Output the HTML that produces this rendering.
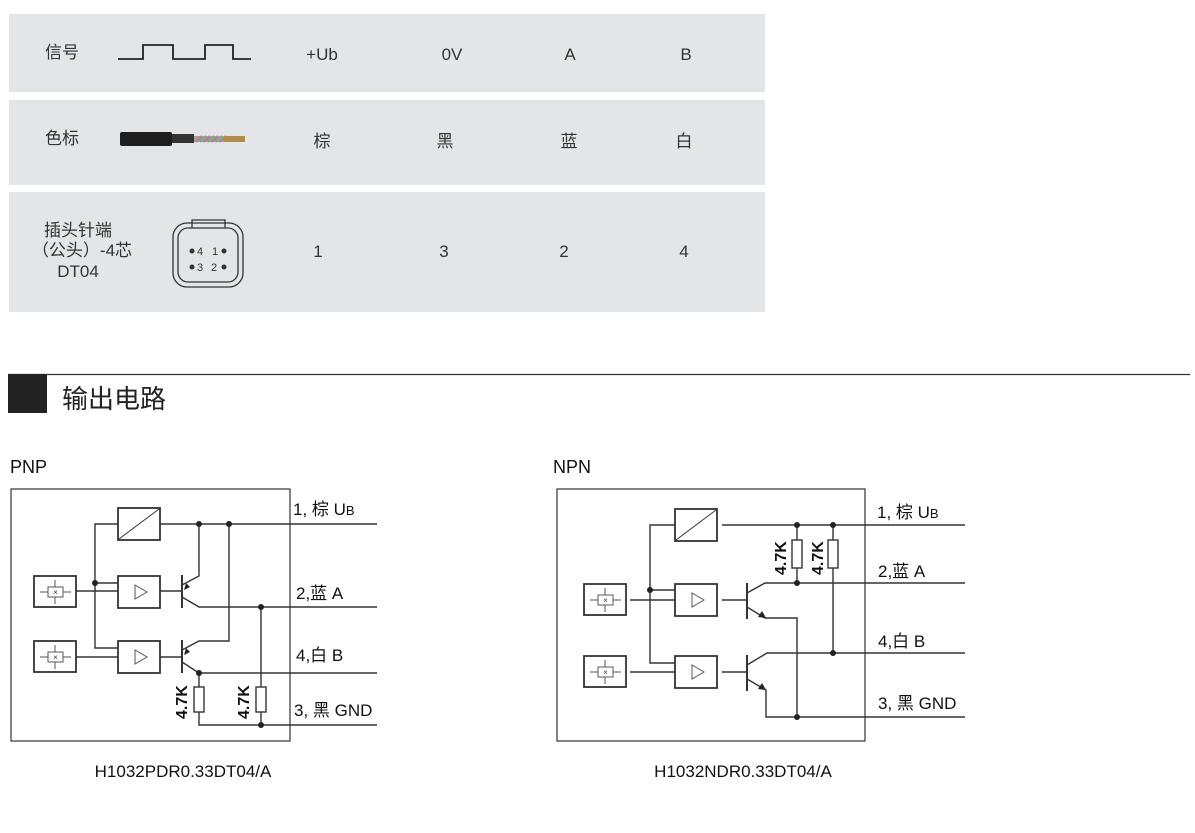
<!DOCTYPE html>
<html><head><meta charset="utf-8"><style>
body{margin:0;width:1195px;height:833px;background:#fff;overflow:hidden;font-family:"Liberation Sans","Noto Sans CJK SC",sans-serif;}
svg{position:absolute;left:0;top:0}
</style></head><body>
<svg width="1195" height="833" viewBox="0 0 1195 833" font-family="Liberation Sans, Noto Sans CJK SC, sans-serif">
<defs>
<g id="sens"><rect x="0" y="0" width="42" height="31" fill="#fff" stroke="#333" stroke-width="1.8"/>
<line x1="6" y1="16" x2="37" y2="16" stroke="#555"/><line x1="21" y1="4" x2="21" y2="28" stroke="#555"/>
<rect x="14" y="11" width="15" height="10" fill="#fff" stroke="#555"/><text x="21.5" y="19" font-size="8" text-anchor="middle" fill="#333">×</text></g>
<g id="amp"><rect x="0" y="0" width="42" height="32" fill="#fff" stroke="#333" stroke-width="1.8"/>
<path d="M17 9 L29 16 L17 23 Z" fill="none" stroke="#555"/></g>
<g id="conv"><rect x="0" y="0" width="42" height="32" fill="#fff" stroke="#333" stroke-width="1.8"/><line x1="1" y1="31" x2="41" y2="1" stroke="#333"/></g>
</defs>
<!-- table -->
<rect x="9" y="14" width="756" height="78" fill="#e3e5e6"/>
<rect x="9" y="100" width="756" height="85" fill="#e3e5e6"/>
<rect x="9" y="192" width="756" height="120" fill="#e3e5e6"/>
<g font-size="17" fill="#333" text-anchor="middle">
<text x="62" y="58">信号</text>
<text x="322" y="60">+Ub</text><text x="452" y="60">0V</text><text x="570" y="60">A</text><text x="686" y="60">B</text>
<text x="62" y="144">色标</text>
<text x="322" y="147">棕</text><text x="445" y="147">黑</text><text x="569" y="147">蓝</text><text x="684" y="147">白</text>
<text x="78" y="236">插头针端</text><text x="82" y="256">（公头）-4芯</text><text x="78" y="277">DT04</text>
<text x="318" y="257">1</text><text x="444" y="257">3</text><text x="564" y="257">2</text><text x="684" y="257">4</text>
</g>
<path d="M118 59 H143 V45 H173 V59 H205 V45 H233 V59 H251" fill="none" stroke="#222" stroke-width="1.8"/>
<rect x="120" y="132" width="52" height="14" rx="2" fill="#1e1e1e"/>
<rect x="172" y="134" width="22" height="9" fill="#333"/>
<rect x="194" y="136" width="30" height="6" fill="#a89f86"/>
<path d="M196 142 l6 -6 M204 142 l6 -6 M212 142 l6 -6 M220 142 l6 -6" stroke="#b47bb5" stroke-width="2"/>
<path d="M200 142 l6 -6 M208 142 l6 -6 M216 142 l6 -6" stroke="#7fb06f" stroke-width="2"/>
<rect x="224" y="136" width="21" height="6" fill="#b08d4b"/>
<rect x="173" y="223" width="70" height="64" rx="14" fill="none" stroke="#333" stroke-width="1.3"/>
<rect x="178" y="228" width="60" height="54" rx="10" fill="none" stroke="#333" stroke-width="1.3"/>
<path d="M192 228 V220 h33 V228" fill="none" stroke="#333" stroke-width="1.3"/>
<g font-size="11" fill="#333"><circle cx="192" cy="251" r="2.5"/><text x="197" y="255">4</text><text x="212" y="255">1</text><circle cx="224" cy="251" r="2.5"/>
<circle cx="192" cy="267" r="2.5"/><text x="197" y="271">3</text><text x="211" y="271">2</text><circle cx="224" cy="267" r="2.5"/></g>
<!-- heading -->
<line x1="8" y1="374.5" x2="1190" y2="374.5" stroke="#333" stroke-width="1.2"/>
<rect x="8" y="374" width="39" height="39" fill="#222"/>
<text x="62" y="408" font-size="26" fill="#222">输出电路</text>
<text x="10" y="473" font-size="18" fill="#111">PNP</text>
<text x="553" y="473" font-size="18" fill="#111">NPN</text>
<text x="183" y="777" font-size="17" fill="#111" text-anchor="middle">H1032PDR0.33DT04/A</text>
<text x="743" y="777" font-size="17" fill="#111" text-anchor="middle">H1032NDR0.33DT04/A</text>

<!-- PNP -->
<g stroke="#333" stroke-width="1.4" fill="none">
<rect x="11" y="489" width="279" height="252" stroke-width="1.2"/>
<path d="M160 524 H377 M118 524 H95 V648 H118 M95 583 H118 M76 591 H118 M76 657 H118"/>
<path d="M160 591 H182 M182 585 L199 576 V524 M182 597 L199 607 H377 M261 607 V687 M261 712 V725"/>
<path d="M160 657 H182 M182 650 L199 641 H229 V524 M182 662 L199 673 H377 M199 673 V687 M199 712 V725 H377"/>
<path d="M182 575 V608 M182 640 V673" stroke-width="2"/>
<rect x="194" y="687" width="10" height="25" fill="#fff"/><rect x="256" y="687" width="10" height="25" fill="#fff"/>
</g>
<path d="M184 590 L186 583 L190 587 Z M184 655 L186 648 L190 652 Z" fill="#222"/>
<g fill="#222"><circle cx="199" cy="524" r="3"/><circle cx="229" cy="524" r="3"/><circle cx="95" cy="583" r="3"/><circle cx="261" cy="607" r="3"/><circle cx="199" cy="673" r="3"/><circle cx="261" cy="725" r="3"/></g>
<use href="#conv" x="118" y="508"/><use href="#amp" x="118" y="576"/><use href="#amp" x="118" y="641"/>
<use href="#sens" x="34" y="576"/><use href="#sens" x="34" y="641"/>
<g font-size="17" fill="#111"><text x="293" y="515">1, 棕 U<tspan font-size="13">B</tspan></text><text x="296" y="599">2,蓝 A</text><text x="296" y="661">4,白 B</text><text x="294" y="716">3, 黑 GND</text>
<text transform="translate(187,719) rotate(-90)" font-size="16" font-weight="bold">4.7K</text>
<text transform="translate(249,719) rotate(-90)" font-size="16" font-weight="bold">4.7K</text></g>

<!-- NPN -->
<g stroke="#333" stroke-width="1.4" fill="none">
<rect x="557" y="489" width="308" height="252" stroke-width="1.2"/>
<path d="M722 525 H965 M675 525 H650 V663 H675 M650 590 H675 M630 600 H675 M630 672 H675"/>
<path d="M797 525 V540 M797 568 V583 M833 525 V540 M833 568 V653"/>
<path d="M722 600 H747 M747 593 L765 583 H965 M747 607 L765 618 H797 V717"/>
<path d="M722 672 H747 M747 665 L767 653 H965 M747 679 L766 690 V717 H965"/>
<path d="M747 583 V619 M747 655 V691" stroke-width="2"/>
<rect x="792" y="540" width="10" height="28" fill="#fff"/><rect x="828" y="540" width="10" height="28" fill="#fff"/>
</g>
<path d="M766 618 L758 617 L762 611 Z M766 690 L758 689 L762 683 Z" fill="#222"/>
<g fill="#222"><circle cx="797" cy="525" r="3"/><circle cx="833" cy="525" r="3"/><circle cx="650" cy="590" r="3"/><circle cx="797" cy="583" r="3"/><circle cx="833" cy="653" r="3"/><circle cx="797" cy="717" r="3"/></g>
<use href="#conv" x="675" y="509"/><use href="#amp" x="675" y="584"/><use href="#amp" x="675" y="656"/>
<use href="#sens" x="584" y="584"/><use href="#sens" x="584" y="656"/>
<g font-size="17" fill="#111"><text x="877" y="518">1, 棕 U<tspan font-size="13">B</tspan></text><text x="878" y="577">2,蓝 A</text><text x="878" y="647">4,白 B</text><text x="878" y="709">3, 黑 GND</text>
<text transform="translate(786,575) rotate(-90)" font-size="16" font-weight="bold">4.7K</text>
<text transform="translate(823,575) rotate(-90)" font-size="16" font-weight="bold">4.7K</text></g>
</svg>
</body></html>
